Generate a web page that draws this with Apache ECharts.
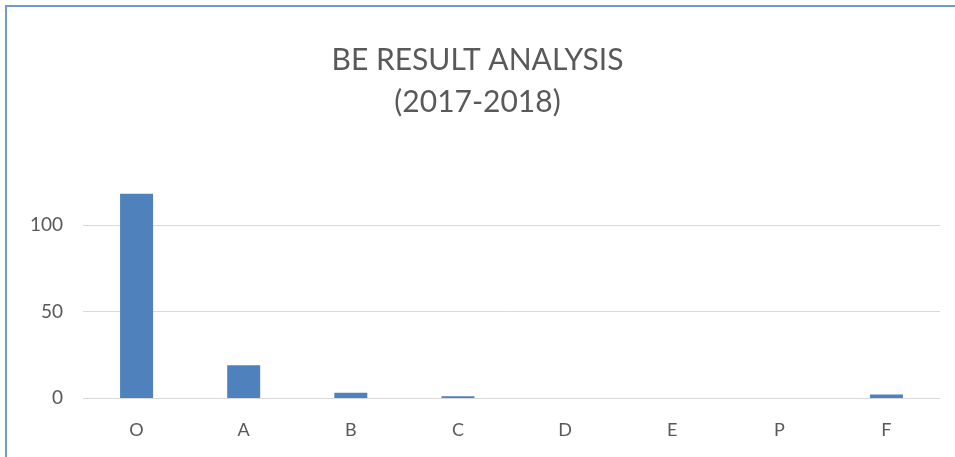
<!DOCTYPE html>
<html>
<head>
<meta charset="utf-8">
<script src="https://cdn.jsdelivr.net/npm/echarts@6/dist/echarts.min.js"></script>
<style>
  html, body { margin: 0; padding: 0; background: #fff; }
  #chart { width: 955px; height: 457px; }
</style>
</head>
<body>
<div id="chart"></div>
<script>
var grades = ['O', 'A', 'B', 'C', 'D', 'E', 'P', 'F'];
var students = [118, 19, 3, 1, 0, 0, 0, 2];
var yTicks = [0, 50, 100];

var myChart = echarts.init(document.getElementById('chart'));
var option = {
    animation: false,
    title: {
        text: 'BE RESULT ANALYSIS\n(2017-2018)',
        left: 'center',
        top: 34,
        textStyle: {
            fontFamily: 'Lato',
            fontWeight: 'normal',
            fontSize: 30,
            lineHeight: 42,
            color: '#595959'
        }
    },
    grid: {
        left: 83,
        right: 15,
        top: 138.5,
        bottom: 59
    },
    xAxis: {
        type: 'category',
        data: grades,
        axisLine: { show: false },
        axisTick: { show: false },
        axisLabel: {
            margin: 23,
            fontSize: 18,
            fontFamily: 'Lato',
            color: '#595959'
        }
    },
    yAxis: {
        type: 'value',
        min: 0,
        max: 150,
        interval: 50,
        axisLine: { show: false },
        axisTick: { show: false },
        axisLabel: {
            margin: 20,
            fontSize: 19,
            fontFamily: 'Lato',
            color: '#595959',
            showMaxLabel: false
        },
        splitLine: {
            lineStyle: {
                // last line (150) is hidden, as in the original
                color: ['#d9d9d9', '#d9d9d9', '#d9d9d9', 'rgba(0,0,0,0)'],
                width: 1
            }
        }
    },
    series: [
        {
            name: 'Students',
            type: 'bar',
            data: students,
            barWidth: 33,
            itemStyle: { color: '#4f81bd' }
        }
    ],
    graphic: [
        {
            type: 'polyline',
            shape: { points: [[6, 457], [6, 6], [955, 6]] },
            style: { stroke: '#6f9bd0', lineWidth: 2, fill: null }
        }
    ]
};
myChart.setOption(option);
</script>
</body>
</html>
